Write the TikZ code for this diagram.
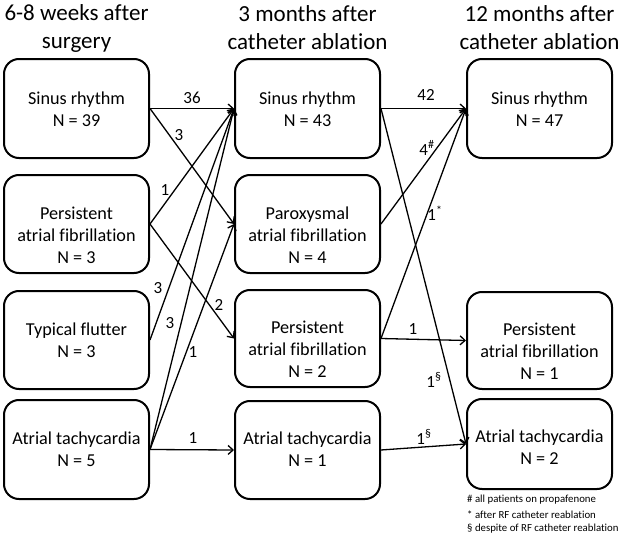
\documentclass[tikz,border=0pt]{standalone}
\usepackage{fontspec}
\setmainfont{Carlito}[Ligatures=NoCommon]
\usetikzlibrary{arrows.meta}
\begin{document}
\begin{tikzpicture}[x=1pt,y=-1pt,
  box/.style={draw, line width=2pt, rounded corners=15pt, minimum width=145pt, inner sep=0pt},
  btxt/.style={align=center, font=\fontsize{18.2}{22}\selectfont, inner sep=0pt},
  hdr/.style={align=center, font=\fontsize{23}{28}\selectfont, inner sep=0pt},
  lab/.style={font=\fontsize{17}{20}\selectfont, inner sep=0pt},
  note/.style={font=\fontsize{10.8}{14}\selectfont, inner sep=0pt, anchor=west},
  conn/.style={line width=1.3pt, -{Straight Barb[length=5pt,width=9pt]}}]
\useasboundingbox (0,0) rectangle (622,546);

% headers
\node[hdr] (h1) at (76.5,28) {6-8 weeks after\\surgery};
\node[hdr] (h2) at (307.5,28) {3 months after\\catheter ablation};
\node[hdr] (h3) at (539.5,28) {12 months after\\catheter ablation};

% column 1
\node[box, minimum height=99pt] (a1) at (76.5,108.5) {};
\node[btxt] (a1t) at (76.5,109) {Sinus rhythm\\N = 39};
\node[box, minimum height=98pt] (a2) at (76.5,224) {};
\node[btxt] (a2t) at (76.5,235) {Persistent\\atrial fibrillation\\N = 3};
\node[box, minimum height=98pt] (a3) at (76.5,340) {};
\node[btxt] (a3t) at (76.5,340.5) {Typical flutter\\N = 3};
\node[box, minimum height=99pt] (a4) at (76.5,449.5) {};
\node[btxt] (a4t) at (76.5,449) {Atrial tachycardia\\N = 5};

% column 2
\node[box, minimum height=99pt] (b1) at (307.5,108.5) {};
\node[btxt] (b1t) at (307.5,109) {Sinus rhythm\\N = 43};
\node[box, minimum height=98pt] (b2) at (307.5,224) {};
\node[btxt] (b2t) at (307.5,235) {Paroxysmal\\atrial fibrillation\\N = 4};
\node[box, minimum height=97pt] (b3) at (307.5,338.5) {};
\node[btxt] (b3t) at (307.5,349) {Persistent\\atrial fibrillation\\N = 2};
\node[box, minimum height=98pt] (b4) at (307.5,450) {};
\node[btxt] (b4t) at (307.5,449) {Atrial tachycardia\\N = 1};

% column 3
\node[box, minimum height=99pt] (c1) at (539.5,108.5) {};
\node[btxt] (c1t) at (539.5,109) {Sinus rhythm\\N = 47};
\node[box, minimum height=97pt] (c2) at (539.5,340.5) {};
\node[btxt] (c2t) at (539.5,351) {Persistent\\atrial fibrillation\\N = 1};
\node[box, minimum height=90pt] (c3) at (539.5,444) {};
\node[btxt] (c3t) at (539.5,447.5) {Atrial tachycardia\\N = 2};

% connectors col1 -> col2
\draw[conn] (a1.east) -- (b1.west);
\draw[conn] (a1.east) -- (b2.west);
\draw[conn] (a2.east) -- (b1.west);
\draw[conn] (a2.east) -- (b3.west);
\draw[conn] (a3.east) -- (b1.west);
\draw[conn] (a4.east) -- (b1.west);
\draw[conn] (a4.east) -- (b2.west);
\draw[conn] (a4.east) -- (b4.west);
% connectors col2 -> col3
\draw[conn] (b1.east) -- (c1.west);
\draw[conn] (b1.east) -- (c3.west);
\draw[conn] (b2.east) -- (c1.west);
\draw[conn] (b3.east) -- (c1.west);
\draw[conn] (b3.east) -- (c2.west);
\draw[conn] (b4.east) -- (c3.west);

% connector labels
\node[lab] (l1) at (192,98) {36};
\node[lab] (l2) at (179,135) {3};
\node[lab] (l3) at (165,190) {1};
\node[lab] (l4) at (219,305) {2};
\node[lab] (l5) at (158,288) {3};
\node[lab] (l6) at (170,323) {3};
\node[lab] (l7) at (193,352) {1};
\node[lab] (l8) at (193,438) {1};
\node[lab] (l9) at (426,95) {42};
\node[lab] (l10) at (427,148) {4\textsuperscript{\#}};
\node[lab] (l11) at (435,213) {1\textsuperscript{*}};
\node[lab] (l12) at (413,329) {1};
\node[lab] (l13) at (434,380) {1\textsuperscript{§}};
\node[lab] (l14) at (424,437) {1\textsuperscript{§}};

% footnotes
\node[note] (n1) at (467,500) {\# all patients on propafenone};
\node[note] (n2) at (467,514.5) {* after RF catheter reablation};
\node[note] (n3) at (467,529) {§ despite of RF catheter reablation};
\end{tikzpicture}
\end{document}
